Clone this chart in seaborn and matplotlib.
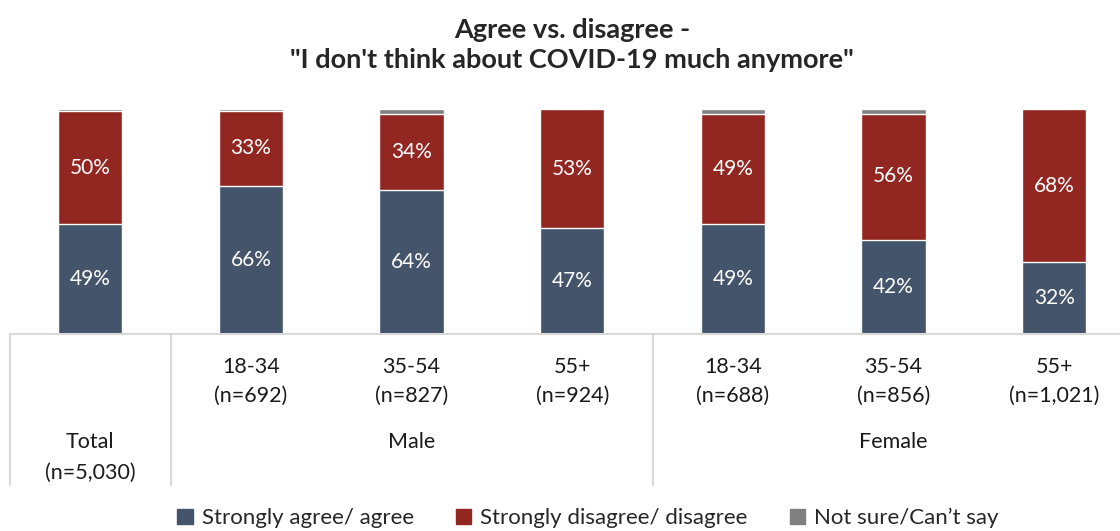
import numpy as np
import pandas as pd
import seaborn as sns
import matplotlib.pyplot as plt
from matplotlib.patches import Patch

# data
groups = ['Total', 'Male 18-34', 'Male 35-54', 'Male 55+', 'Female 18-34', 'Female 35-54', 'Female 55+']
agree = [49, 66, 64, 47, 49, 42, 32]
disagree = [50, 33, 34, 53, 49, 56, 68]
not_sure = [1, 1, 2, 0.4, 2, 2, 0.4]
age_labels = ['', '18-34', '35-54', '55+', '18-34', '35-54', '55+']
n_labels = ['', '(n=692)', '(n=827)', '(n=924)', '(n=688)', '(n=856)', '(n=1,021)']

df = pd.DataFrame({'group': groups, 'agree': agree, 'disagree': disagree, 'not_sure': not_sure})
df['ad'] = df['agree'] + df['disagree']
df['total'] = df['ad'] + df['not_sure']

c_agree = '#44546A'
c_dis = '#922722'
c_ns = '#808080'
line_c = '#D9D9D9'
txt_c = '#1a1a1a'

sns.set_style('white')
plt.rcParams['font.family'] = ['Lato', 'DejaVu Sans']

fig = plt.figure(figsize=(11.2, 5.31), dpi=100)
ax = fig.add_axes([10 / 1120, (531 - 334) / 531, 1110 / 1120, 225 / 531])

# stacked bars: draw cumulative totals back to front
sns.barplot(data=df, x='group', y='total', color=c_ns, width=0.4, ax=ax, saturation=1)
sns.barplot(data=df, x='group', y='ad', color=c_dis, width=0.4, ax=ax, saturation=1)
sns.barplot(data=df, x='group', y='agree', color=c_agree, width=0.4, ax=ax, saturation=1)

for i in range(len(groups)):
    ax.text(i, agree[i] / 2, f'{agree[i]}%', ha='center', va='center', color='white', fontsize=15)
    ax.text(i, agree[i] + disagree[i] / 2, f'{disagree[i]}%', ha='center', va='center', color='white', fontsize=15)

ax.set_xlim(-0.5, 6.41)
ax.set_ylim(0, 100)
ax.set_xticks([])
ax.set_yticks([])
ax.set_xlabel('')
ax.set_ylabel('')
sns.despine(ax=ax, left=True, right=True, top=True, bottom=True)

# category table below the bars
ax.plot([-0.5, 6.41], [0, 0], color=line_c, lw=1.5, clip_on=False)
for xl in [-0.5, 0.5, 3.5]:
    ax.plot([xl, xl], [0, -67], color=line_c, lw=1.5, clip_on=False)

for i in range(1, len(groups)):
    ax.text(i, -14.5, age_labels[i], ha='center', va='center', fontsize=15.5, color=txt_c)
    ax.text(i, -27.5, n_labels[i], ha='center', va='center', fontsize=15.5, color=txt_c)
ax.text(0, -48, 'Total', ha='center', va='center', fontsize=15.5, color=txt_c)
ax.text(0, -61.5, '(n=5,030)', ha='center', va='center', fontsize=15.5, color=txt_c)
ax.text(2, -48, 'Male', ha='center', va='center', fontsize=15.5, color=txt_c)
ax.text(5, -48, 'Female', ha='center', va='center', fontsize=15.5, color=txt_c)

fig.text(0.511, 1 - 30 / 531, 'Agree vs. disagree -', ha='center', va='center', fontsize=19.5, fontweight='bold')
fig.text(0.511, 1 - 60 / 531, '"I don\'t think about COVID-19 much anymore"', ha='center', va='center',
         fontsize=19.5, fontweight='bold')

handles = [Patch(color=c_agree, label='Strongly agree/ agree'),
           Patch(color=c_dis, label='Strongly disagree/ disagree'),
           Patch(color=c_ns, label='Not sure/Can\u2019t say')]
fig.legend(handles=handles, loc='center', bbox_to_anchor=(0.525, 0.024), ncol=3, frameon=False,
           fontsize=16, handlelength=0.7, handleheight=0.7, handletextpad=0.4, columnspacing=1.9)

fig.savefig('out.png', dpi=100)
